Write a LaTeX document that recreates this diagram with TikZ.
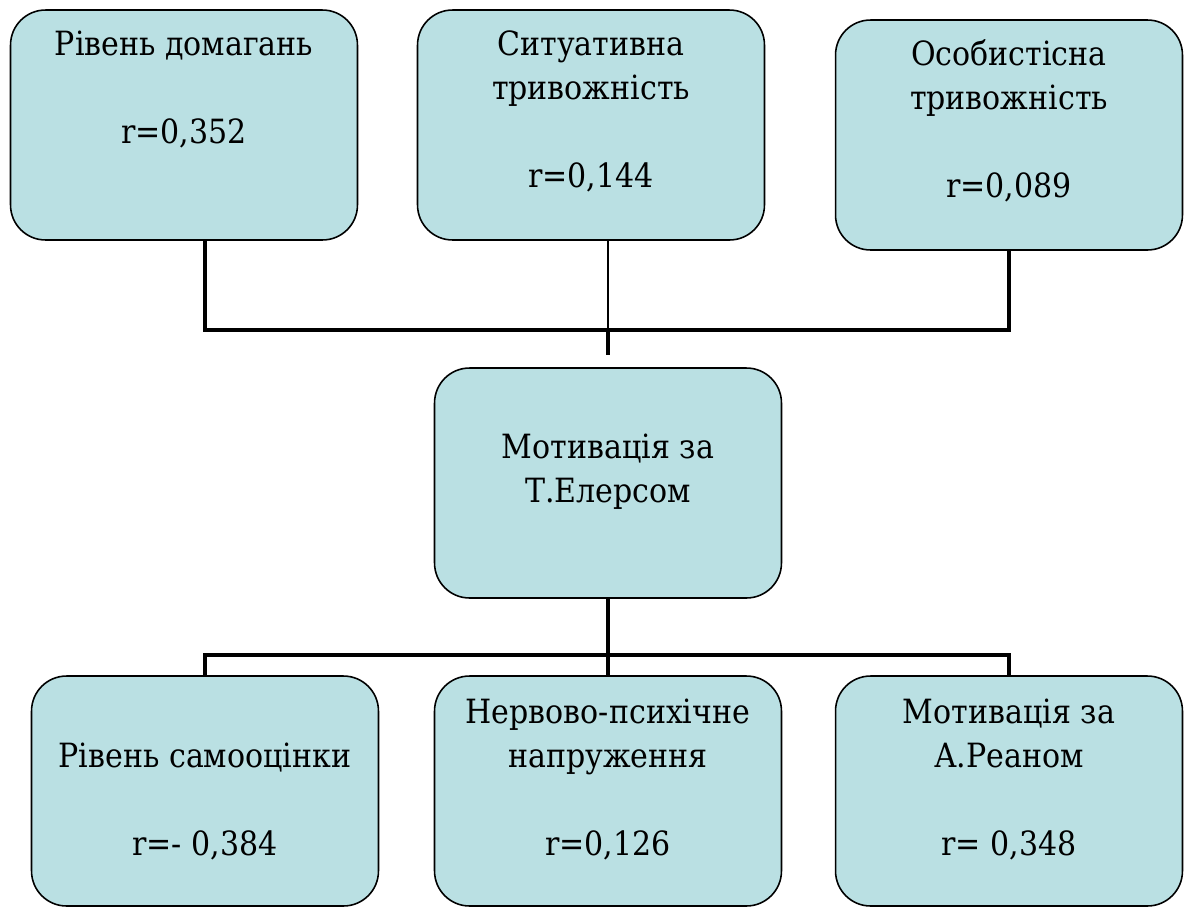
\documentclass[tikz,border=0pt]{standalone}
\usepackage{fontspec}
\setmainfont{DejaVu Serif}[FakeStretch=0.9]
\usetikzlibrary{positioning,calc}
\definecolor{boxfill}{RGB}{186,224,227}

\begin{document}
\begin{tikzpicture}[
  x=0.02cm, y=-0.02cm,
  box/.style={draw, line width=0.9pt, rounded corners=0.7cm, fill=boxfill, minimum width=6.94cm, minimum height=4.6cm, inner sep=0pt},
  lbl/.style={align=center, inner sep=0pt, anchor=base, font=\fontsize{19}{25}\selectfont},
  bus/.style={line width=2.8pt},
  thin/.style={line width=1.1pt},
]
\useasboundingbox (0,0) rectangle (1184,907);

% Factors (top row)
\node[box] (asp) at (184,125) {};
\node[box] (sit) at (591,125) {};
\node[box] (pers) at (1009,135) {};
\node[lbl] (asp-t) at (184,143) {Рівень домагань\\[25pt]r=0,352};
\node[lbl] (sit-t) at (591,187) {Ситуативна\\тривожність\\[25pt]r=0,144};
\node[lbl] (pers-t) at (1009,197) {Особистісна\\тривожність\\[25pt]r=0,089};

% Central node
\node[box] (mot) at (608,483) {};
\node[lbl] (mot-t) at (608,502) {Мотивація за\\Т.Елерсом};

% Factors (bottom row)
\node[box] (self) at (205,791) {};
\node[box] (nerv) at (608,791) {};
\node[box] (rean) at (1009,791) {};
\node[lbl] (self-t) at (205,855) {Рівень самооцінки\\[25pt]r=- 0,384};
\node[lbl] (nerv-t) at (608,855) {Нервово-психічне\\напруження\\[25pt]r=0,126};
\node[lbl] (rean-t) at (1009,855) {Мотивація за\\А.Реаном\\[25pt]r= 0,348};

% Upper bus
\coordinate (topjoin) at (608,330);
\coordinate (topstub) at (608,355);
\coordinate (bot) at (608,655);
\draw[bus] (self.north |- asp.south) |- (topjoin) -| (pers.south);
\draw[thin] (mot.north |- sit.south) -- (topjoin);
\draw[bus] (topjoin) -- (topstub);

% Lower bus
\draw[bus] (mot.south) -- (bot);
\draw[bus] (self.north) |- (bot) -| (rean.north);
\draw[bus] (bot) -- (nerv.north);

\end{tikzpicture}
\end{document}
